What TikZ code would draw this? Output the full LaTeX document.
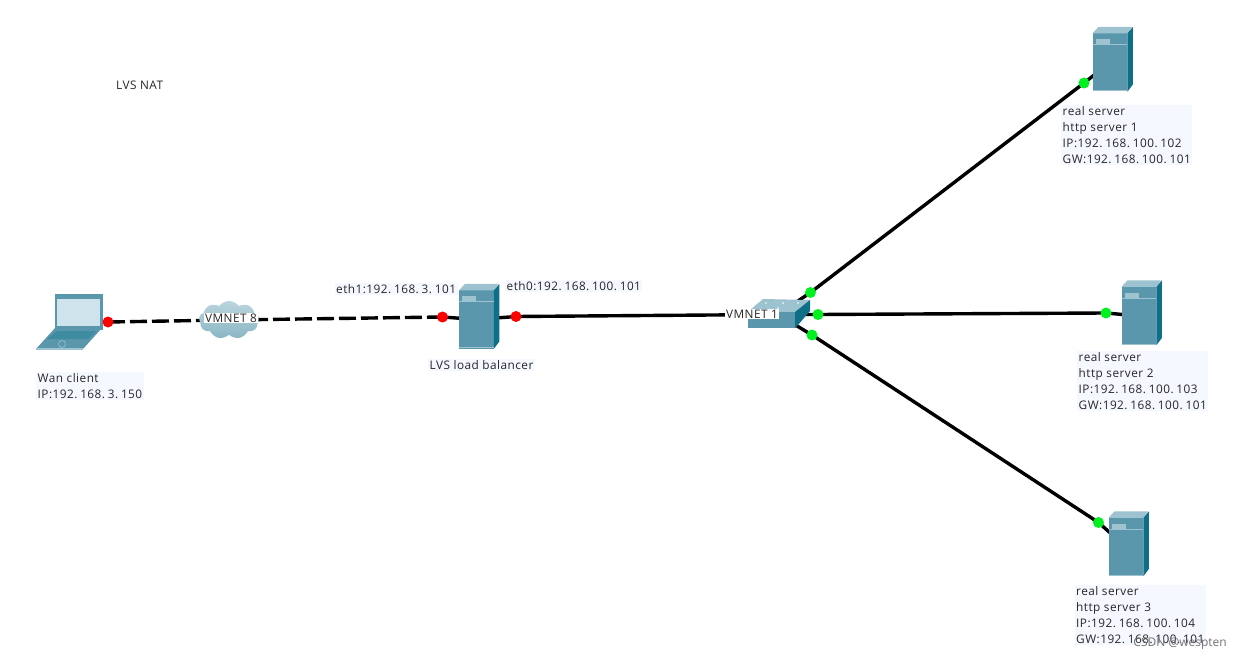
\documentclass[tikz,border=0pt]{standalone}
\usepackage{fontspec}
\setmainfont{Open Sans}
\usetikzlibrary{shapes.symbols,backgrounds}
\definecolor{srvfront}{HTML}{5A97AC}
\definecolor{srvtop}{HTML}{9CC3CF}
\definecolor{srvside}{HTML}{0F6F88}
\definecolor{srvbadge}{HTML}{9FC4D0}
\definecolor{labelbg}{HTML}{F6F8FF}
\definecolor{lapscreen}{HTML}{CFE3EC}
\definecolor{dotred}{HTML}{FF0000}
\definecolor{dotgreen}{HTML}{00F020}
\newcommand{\dd}{.\kern2.8pt}
\tikzset{
  x=1pt,y=-1pt,
  txt/.style={font=\fontsize{11.8}{16}\addfontfeatures{LetterSpace=4}\selectfont,fill=labelbg,inner sep=1.5pt,align=left,text=black!85,anchor=north west,text depth=0pt},
  wire/.style={line width=3.4pt,black},
  dashwire/.style={wire,dash pattern=on 17pt off 5pt},
  port/.style={circle,inner sep=0pt,minimum size=11pt,draw=none},
  redport/.style={port,fill=dotred},
  greenport/.style={port,fill=dotgreen},
  srv/.style={rectangle,inner sep=0pt,minimum width=34.5pt,minimum height=58pt,fill=srvfront,draw=none},
}
\newcommand{\serverat}[3]{%
  \node[srv] (#1) at (#2,#3) {};
  \fill[srvtop] (#1.north west) -- ++(6,-6.5) -- ++(33.5,0) -- (#1.north east) -- cycle;
  \fill[srvside] (#1.north east) -- ++(5.5,-6.5) -- ++(0,57.5) -- (#1.south east) -- cycle;
  \fill[srvbadge] ([xshift=3pt,yshift=-6pt]#1.north west) rectangle ++(14,5.5);
  \draw[srvtop,line width=.7pt] ([yshift=18pt]#1.west) -- ([yshift=18pt]#1.east);
  \draw[srvtop,line width=1.2pt] ([yshift=1pt]#1.south west) -- ([yshift=1pt]#1.south east);
}
\begin{document}
\begin{tikzpicture}
\useasboundingbox (0,0) rectangle (1242,660);

% laptop
\node[rectangle,minimum width=48pt,minimum height=36pt,inner sep=0pt,fill=srvfront] (lap) at (79,312) {};
\fill[lapscreen] (57,299) rectangle (100,326);
\fill[srvfront] (55,328) -- (102,328) -- (83,349) -- (36,349) -- cycle;
\fill[srvtop] (36,348) -- (83,348) -- (83,350) -- (36,350) -- cycle;
\fill[srvside!80!white] (57,331) -- (96,331) -- (88,339) -- (47,339) -- cycle;
\draw[srvtop,line width=.6pt] (62,344) circle (3.5);

% cloud
\node[cloud,cloud puffs=9,cloud puff arc=110,aspect=1.7,minimum width=60pt,minimum height=38pt,inner sep=0pt,draw=none,top color=srvtop!70!white,bottom color=srvfront!70!white] (cloud) at (229,320) {};

% servers
\serverat{lb}{476.5}{319.5}
\serverat{s1}{1110}{62.5}
\serverat{s2}{1139}{316}
\serverat{s3}{1126}{547}

% switch
\node[rectangle,minimum width=47pt,minimum height=16pt,inner sep=0pt,fill=srvfront] (sw) at (771.5,320) {};
\fill[srvtop] (sw.north west) -- (763,299) -- (810,300) -- (sw.north east) -- cycle;
\fill[srvside] (sw.north east) -- (810,300) -- (810,311) -- (sw.south east) -- cycle;
\fill[white] (766,303) circle (.8) (783,303) circle (.8) (798,303) circle (.8) (778,308) circle (.8);
\coordinate (hub) at (778,314.5);

% ports
\node[redport] (plap) at (108,322) {};
\node[redport] (plbw) at (442.5,317) {};
\node[redport] (plbe) at (516,316.5) {};
\node[greenport] (pa) at (810.5,292.5) {};
\node[greenport] (pb) at (818,314.5) {};
\node[greenport] (pc) at (812,335) {};
\node[greenport] (pd) at (1084,83) {};
\node[greenport] (pe) at (1106,313) {};
\node[greenport] (pf) at (1098.5,522.5) {};

% connectors
\begin{scope}[on background layer]
\draw[dashwire] (plap.center) -- (cloud.center);
\draw[dashwire] (cloud.center) -- (plbw.center);
\draw[wire] (plbw.center) -- (lb.center);
\draw[wire] (lb.center) -- (plbe.center) -- (hub);
\draw[wire] (hub) -- (pa.center) -- (pd.center) -- (s1.center);
\draw[wire] (hub) -- (pb.center) -- (pe.center) -- (s2.center);
\draw[wire] (hub) -- (pc.center) -- (pf.center) -- (s3.center);
\end{scope}

% labels
\node[txt,fill=none] (title) at (114.5,79) {LVS NAT};
\node[txt] (wan) at (36,371.5) {Wan client\\IP:192\dd 168\dd 3\dd 150};
\node[txt,fill=white,inner ysep=0.5pt,anchor=center] (vm8) at (231,318) {VMNET 8};
\node[txt] (eth1) at (334.5,282.5) {eth1:192\dd 168\dd 3\dd 101};
\node[txt] (eth0) at (505,279.5) {eth0:192\dd 168\dd 100\dd 101};
\node[txt] (lbl) at (428,358.5) {LVS load balancer};
\node[txt,fill=white,inner ysep=0.5pt,anchor=center] (vm1) at (752,314) {VMNET 1};
\node[txt] (t1) at (1061,104.5) {real server\\http server 1\\IP:192\dd 168\dd 100\dd 102\\GW:192\dd 168\dd 100\dd 101};
\node[txt] (t2) at (1077,350.5) {real server\\http server 2\\IP:192\dd 168\dd 100\dd 103\\GW:192\dd 168\dd 100\dd 101};
\node[txt] (t3) at (1074.5,585) {real server\\http server 3\\IP:192\dd 168\dd 100\dd 104\\GW:192\dd 168\dd 100\dd 101};
\node[font=\fontsize{12}{14}\selectfont,text=black!55,inner sep=0pt,anchor=east] (wm) at (1227,644) {CSDN @wespten};
\end{tikzpicture}
\end{document}
